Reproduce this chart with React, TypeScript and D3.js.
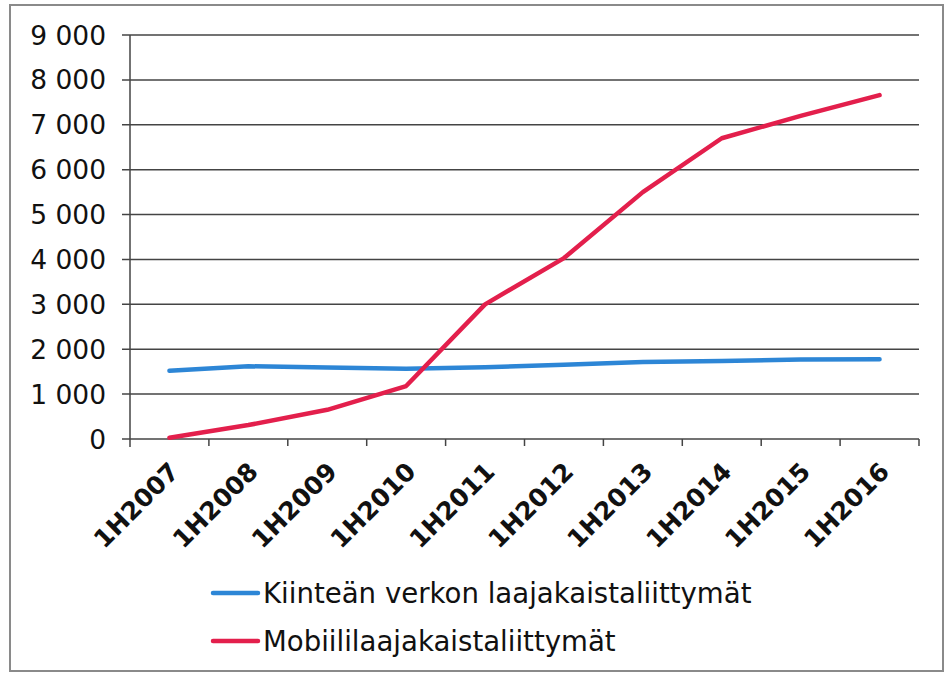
import React from "react";
import * as d3 from "d3";

const categories = ["1H2007","1H2008","1H2009","1H2010","1H2011","1H2012","1H2013","1H2014","1H2015","1H2016"];
const fixedSeries = [1520, 1620, 1595, 1565, 1600, 1655, 1715, 1740, 1770, 1775];
const mobileSeries = [30, 310, 650, 1180, 3000, 4030, 5500, 6700, 7200, 7660];
const yTicks = [0, 1000, 2000, 3000, 4000, 5000, 6000, 7000, 8000, 9000];
const seriesNames = ["Kiinteän verkon laajakaistaliittymät", "Mobiililaajakaistaliittymät"];
const seriesColors = ["#2D86D6", "#E31F4C"];

const W = 946, H = 676;
const left = 130, right = 919, top = 35, bottom = 439;

export default function App() {
  const x = d3.scaleBand<string>().domain(categories).range([left, right]);
  const y = d3.scaleLinear().domain([0, 9000]).range([bottom, top]);
  const line = d3.line<number>()
    .x((_, i) => (x(categories[i]) as number) + x.bandwidth() / 2)
    .y(d => y(d));
  const fmt = (v: number) => d3.format(",")(v).replace(/,/g, " ");
  const font = "'DejaVu Sans', Verdana, sans-serif";
  const data = [fixedSeries, mobileSeries];
  return (
    <svg width={W} height={H} style={{ position: "absolute", left: 0, top: 0, background: "#fff" }}>
      <rect x={10} y={5} width={933} height={666} fill="#fff" stroke="#8a8a8a" strokeWidth={2} />
      {yTicks.map(t => (
        <g key={t}>
          <line x1={left - 8} x2={right} y1={y(t)} y2={y(t)} stroke="#444" strokeWidth={1.5} />
          <text x={106} y={y(t)} dy="0.36em" textAnchor="end" fontFamily={font} fontSize={26.5} fill="#111">{fmt(t)}</text>
        </g>
      ))}
      <line x1={left} x2={left} y1={top} y2={bottom + 8} stroke="#444" strokeWidth={1.5} />
      {categories.map((c, i) => (
        <line key={c} x1={(x(c) as number) + x.bandwidth()} x2={(x(c) as number) + x.bandwidth()} y1={bottom} y2={bottom + 7} stroke="#444" strokeWidth={1.5} />
      ))}
      {categories.map(c => {
        const cx = (x(c) as number) + x.bandwidth() / 2 + 5;
        const cy = bottom + 28;
        return (
          <text key={c} transform={`translate(${cx},${cy}) rotate(-45)`} textAnchor="end" dy="0.35em"
            fontFamily={font} fontSize={25} fontWeight="bold" fill="#111">{c}</text>
        );
      })}
      {data.map((d, i) => (
        <path key={i} d={line(d) as string} fill="none" stroke={seriesColors[i]} strokeWidth={4.5} strokeLinejoin="round" strokeLinecap="round" />
      ))}
      {seriesNames.map((n, i) => (
        <g key={n}>
          <line x1={213} x2={258} y1={593 + i * 48} y2={593 + i * 48} stroke={seriesColors[i]} strokeWidth={4.5} strokeLinecap="round" />
          <text x={263} y={593 + i * 48} dy="0.36em" fontFamily={font} fontSize={27.6} fill="#111">{n}</text>
        </g>
      ))}
    </svg>
  );
}
